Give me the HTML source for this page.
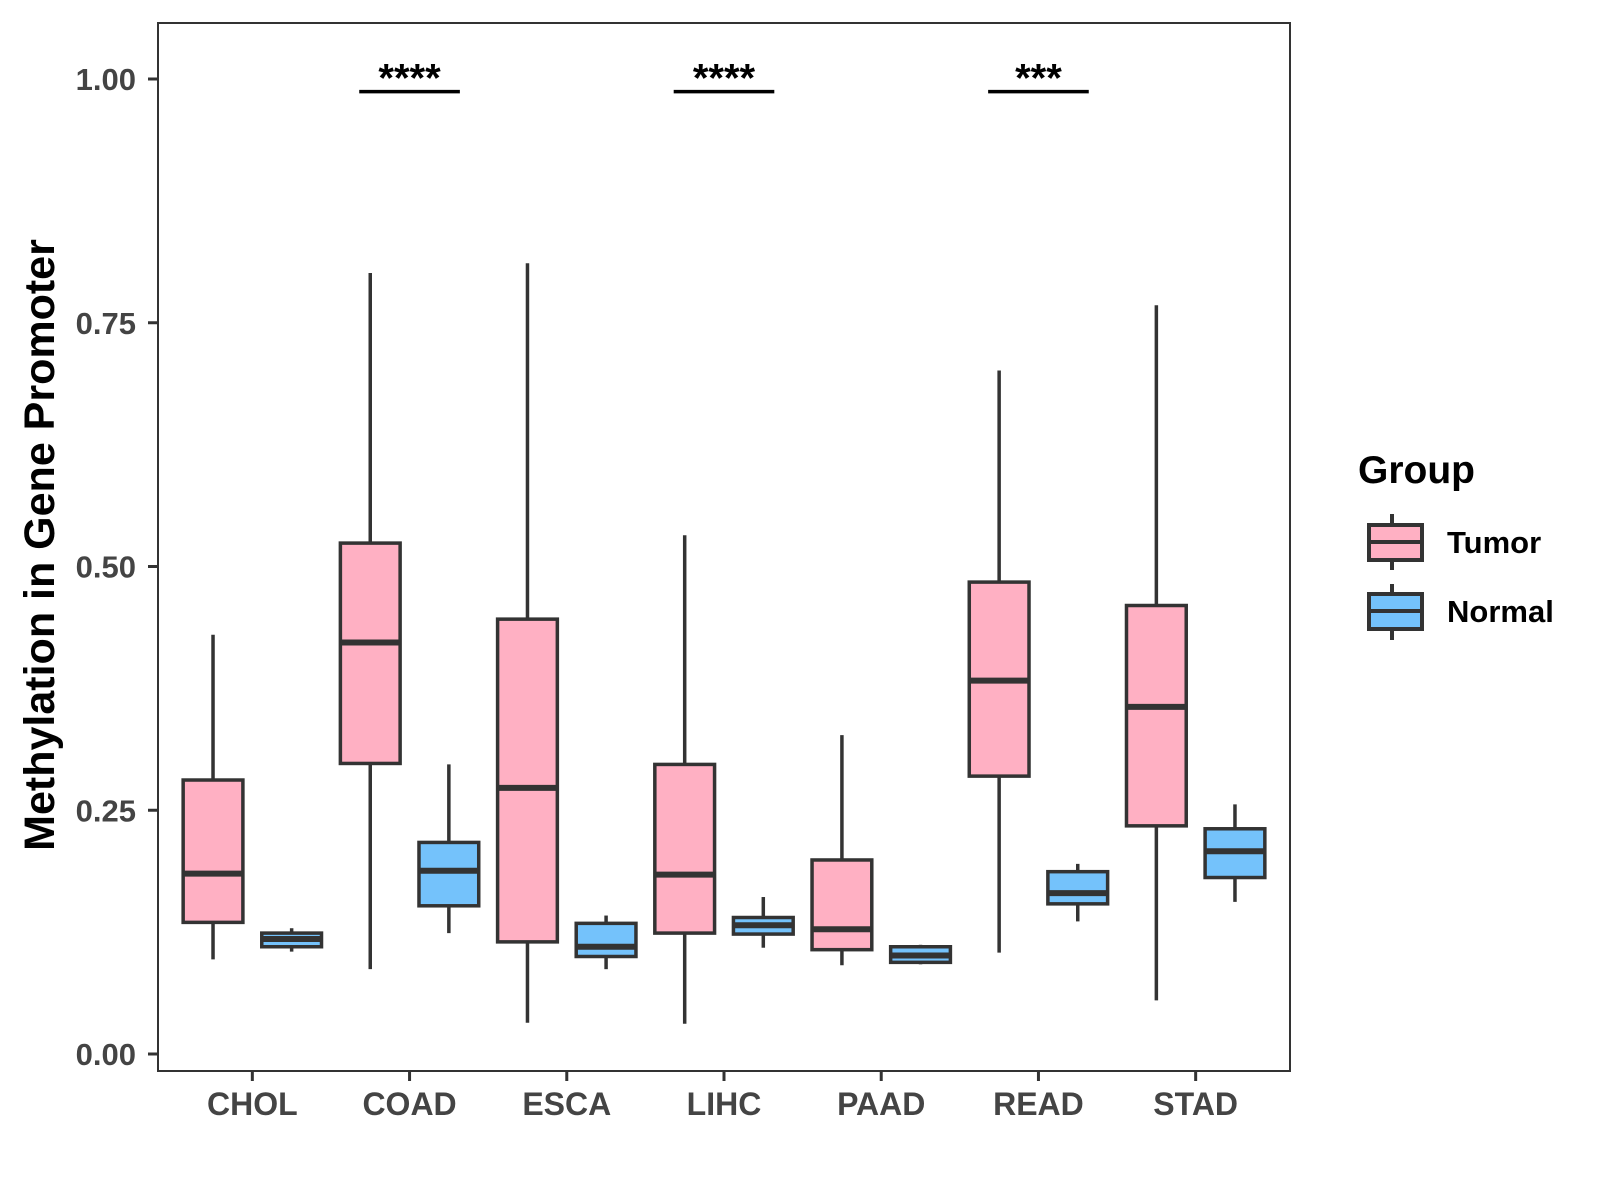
<!DOCTYPE html>
<html><head><meta charset="utf-8"><style>
html,body{margin:0;padding:0;background:#fff;}
svg{display:block;font-family:"Liberation Sans",Arial,sans-serif;font-weight:bold;}
</style></head><body>
<svg id="chart" width="1600" height="1200" viewBox="0 0 1600 1200" xmlns="http://www.w3.org/2000/svg">
<rect x="158" y="23" width="1132" height="1048" fill="#fff" stroke="#333" stroke-width="2"/>
<g id="marks"></g>
<text transform="translate(54,545) rotate(-90)" text-anchor="middle" font-size="43" fill="#000">Methylation in Gene Promoter</text>
<g>
<text x="1358" y="483" font-size="39" fill="#000">Group</text>
<line x1="1392" y1="514" x2="1392" y2="570" stroke="#333" stroke-width="4"/>
<rect x="1369" y="525" width="53" height="35" fill="#FFB0C3" stroke="#333" stroke-width="4"/>
<line x1="1369" y1="542" x2="1422" y2="542" stroke="#333" stroke-width="4"/>
<text x="1447" y="553" font-size="31" fill="#000">Tumor</text>
<line x1="1392" y1="584" x2="1392" y2="640" stroke="#333" stroke-width="4"/>
<rect x="1369" y="594" width="53" height="35" fill="#74C2FB" stroke="#333" stroke-width="4"/>
<line x1="1369" y1="611" x2="1422" y2="611" stroke="#333" stroke-width="4"/>
<text x="1447" y="622" font-size="31" fill="#000">Normal</text>
</g>
</svg>
<script>
const categories=["CHOL","COAD","ESCA","LIHC","PAAD","READ","STAD"];
// [lowWhisker, q1, median, q3, highWhisker]
const tumorStats=[[0.097,0.135,0.185,0.281,0.430],[0.087,0.298,0.422,0.524,0.801],[0.032,0.115,0.273,0.446,0.811],[0.031,0.124,0.184,0.297,0.532],[0.091,0.107,0.128,0.199,0.327],[0.104,0.285,0.383,0.484,0.701],[0.055,0.234,0.356,0.460,0.768]];
const normalStats=[[0.105,0.110,0.118,0.124,0.129],[0.124,0.152,0.188,0.217,0.297],[0.087,0.100,0.110,0.134,0.142],[0.109,0.123,0.132,0.140,0.161],[0.092,0.094,0.101,0.110,0.112],[0.136,0.154,0.165,0.187,0.195],[0.156,0.181,0.208,0.231,0.256]];
const yTicks=[0,0.25,0.5,0.75,1.0];
const yTickLabels=["0.00","0.25","0.50","0.75","1.00"];
const sigCategories=["COAD","LIHC","READ"];
const sigLabels=["****","****","***"];
const sigLevel=0.987;

const L=158,R=1290,T=23,B=1071,Y0=1054,Y1=79;
const unit=(R-L)/(categories.length-1+1.2);
function xs(i){return L+(0.6+i)*unit;}
function ys(v){return Y0-(Y0-Y1)*v;}
const NS="http://www.w3.org/2000/svg";
const g=document.getElementById('marks');
function mk(tag,attrs,parent){const e=document.createElementNS(NS,tag);for(const k in attrs)e.setAttribute(k,attrs[k]);(parent||g).appendChild(e);return e;}

yTicks.forEach((t,i)=>{
  const tk=mk('line',{x1:L-10,x2:L,y1:ys(t),y2:ys(t),stroke:'#333','stroke-width':3});
  
  
  const tx=mk('text',{x:L-22,y:ys(t)+11,'text-anchor':'end','font-size':31,fill:'#444'});
  tx.textContent=yTickLabels[i];
  
  
});
categories.forEach((c,i)=>{
  const tk=mk('line',{x1:xs(i),x2:xs(i),y1:B,y2:B+10,stroke:'#333','stroke-width':3});
  
  
  const tx=mk('text',{x:xs(i),y:B+44,'text-anchor':'middle','font-size':32,fill:'#444'});
  tx.textContent=c;
  
  
});
function box(cx,s,fill,name){
  const w=0.38*unit;
  const grp=mk('g',{});
  
  
  mk('line',{x1:cx,x2:cx,y1:ys(s[0]),y2:ys(s[4]),stroke:'#333','stroke-width':3.5},grp);
  mk('rect',{x:cx-w/2,y:ys(s[3]),width:w,height:ys(s[1])-ys(s[3]),fill:fill,stroke:'#333','stroke-width':3.5},grp);
  mk('line',{x1:cx-w/2,x2:cx+w/2,y1:ys(s[2]),y2:ys(s[2]),stroke:'#333','stroke-width':6},grp);
}
categories.forEach((c,i)=>{
  box(xs(i)-0.25*unit,tumorStats[i],'#FFB0C3','box-tumor-'+c.toLowerCase());
  box(xs(i)+0.25*unit,normalStats[i],'#74C2FB','box-normal-'+c.toLowerCase());
});
sigCategories.forEach((c,j)=>{
  const i=categories.indexOf(c);
  const ln=mk('line',{x1:xs(i)-0.32*unit,x2:xs(i)+0.32*unit,y1:ys(sigLevel),y2:ys(sigLevel),stroke:'#000','stroke-width':3.5});
  
  
  const tx=mk('text',{x:xs(i),y:ys(sigLevel),'text-anchor':'middle','font-size':40,fill:'#000'});
  tx.textContent=sigLabels[j];
  
  
});
</script>
</body></html>
